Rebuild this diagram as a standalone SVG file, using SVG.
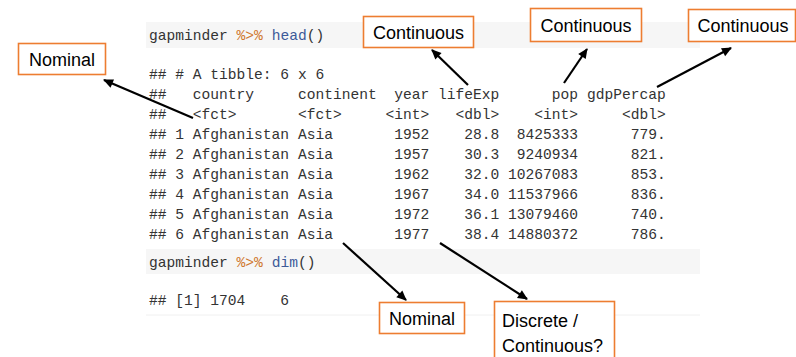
<svg xmlns="http://www.w3.org/2000/svg" width="796" height="357" viewBox="0 0 796 357">
<style>
.code{font-family:"Liberation Mono","DejaVu Sans Mono",monospace;font-size:14.6px;fill:#333;white-space:pre}
.op{fill:#D0782E}
.fn{fill:#3D5A99}
.panel{fill:#F6F6F6}
.box{fill:#fff;stroke:#ED7D31;stroke-width:1.6}
.lbl{font-family:"Liberation Sans",Arial,sans-serif;font-size:18px;fill:#000}
.arr{stroke:#000;stroke-width:2.2;fill:none;marker-end:url(#ah)}
</style>
<defs>
<marker id="ah" markerUnits="userSpaceOnUse" viewBox="0 0 10 10" refX="9" refY="5" markerWidth="11" markerHeight="10" orient="auto">
<path d="M0,0.5 L10,5 L0,9.5 z" fill="#000"/>
</marker>
</defs>
<rect width="796" height="357" fill="#fff"/>
<g id="code">
<rect class="panel" x="146" y="22" width="554" height="26"/>
<rect class="panel" x="146" y="249" width="554" height="25"/>
<line x1="146" y1="315" x2="700" y2="315" stroke="#F0F0F0" stroke-width="1"/>
<text class="code" x="149" y="40" xml:space="preserve">gapminder <tspan class="op">%&gt;%</tspan> <tspan class="fn">head</tspan>()</text>
<text class="code" x="149" y="79" xml:space="preserve">## # A tibble: 6 x 6</text>
<text class="code" x="149" y="99" xml:space="preserve">##   country     continent  year lifeExp      pop gdpPercap</text>
<text class="code" x="149" y="119" xml:space="preserve">##   &lt;fct&gt;       &lt;fct&gt;     &lt;int&gt;   &lt;dbl&gt;    &lt;int&gt;     &lt;dbl&gt;</text>
<text class="code" x="149" y="139" xml:space="preserve">## 1 Afghanistan Asia       1952    28.8  8425333      779.</text>
<text class="code" x="149" y="159" xml:space="preserve">## 2 Afghanistan Asia       1957    30.3  9240934      821.</text>
<text class="code" x="149" y="179" xml:space="preserve">## 3 Afghanistan Asia       1962    32.0 10267083      853.</text>
<text class="code" x="149" y="199" xml:space="preserve">## 4 Afghanistan Asia       1967    34.0 11537966      836.</text>
<text class="code" x="149" y="219" xml:space="preserve">## 5 Afghanistan Asia       1972    36.1 13079460      740.</text>
<text class="code" x="149" y="239" xml:space="preserve">## 6 Afghanistan Asia       1977    38.4 14880372      786.</text>
<text class="code" x="149" y="267" xml:space="preserve">gapminder <tspan class="op">%&gt;%</tspan> <tspan class="fn">dim</tspan>()</text>
<text class="code" x="149" y="305" xml:space="preserve">## [1] 1704    6</text>
</g>
<g id="connectors">
<line class="arr" x1="193" y1="118" x2="104" y2="80"/>
<line class="arr" x1="468" y1="85" x2="432" y2="50"/>
<line class="arr" x1="564" y1="83" x2="587" y2="49"/>
<line class="arr" x1="657" y1="87" x2="731" y2="48"/>
<line class="arr" x1="343" y1="243" x2="406" y2="300"/>
<line class="arr" x1="440" y1="243" x2="527" y2="299"/>
</g>
<g id="nominal-top">
<rect class="box" x="18.5" y="43.5" width="87" height="31"/>
<text class="lbl" x="62" y="66" text-anchor="middle">Nominal</text>
</g>
<g id="continuous-lifeexp">
<rect class="box" x="363.5" y="16.5" width="110" height="31"/>
<text class="lbl" x="418.5" y="39" text-anchor="middle">Continuous</text>
</g>
<g id="continuous-pop">
<rect class="box" x="530.5" y="8.5" width="111" height="33"/>
<text class="lbl" x="586" y="32" text-anchor="middle">Continuous</text>
</g>
<g id="continuous-gdp">
<rect class="box" x="688.5" y="9.5" width="107" height="32"/>
<text class="lbl" x="743" y="32" text-anchor="middle">Continuous</text>
</g>
<g id="nominal-bottom">
<rect class="box" x="379.5" y="302.5" width="85" height="31"/>
<text class="lbl" x="422" y="325" text-anchor="middle">Nominal</text>
</g>
<g id="discrete-continuous">
<rect class="box" x="494.5" y="301.5" width="120" height="60"/>
<text class="lbl" x="502" y="327">Discrete /</text>
<text class="lbl" x="502" y="352">Continuous?</text>
</g>
</svg>
